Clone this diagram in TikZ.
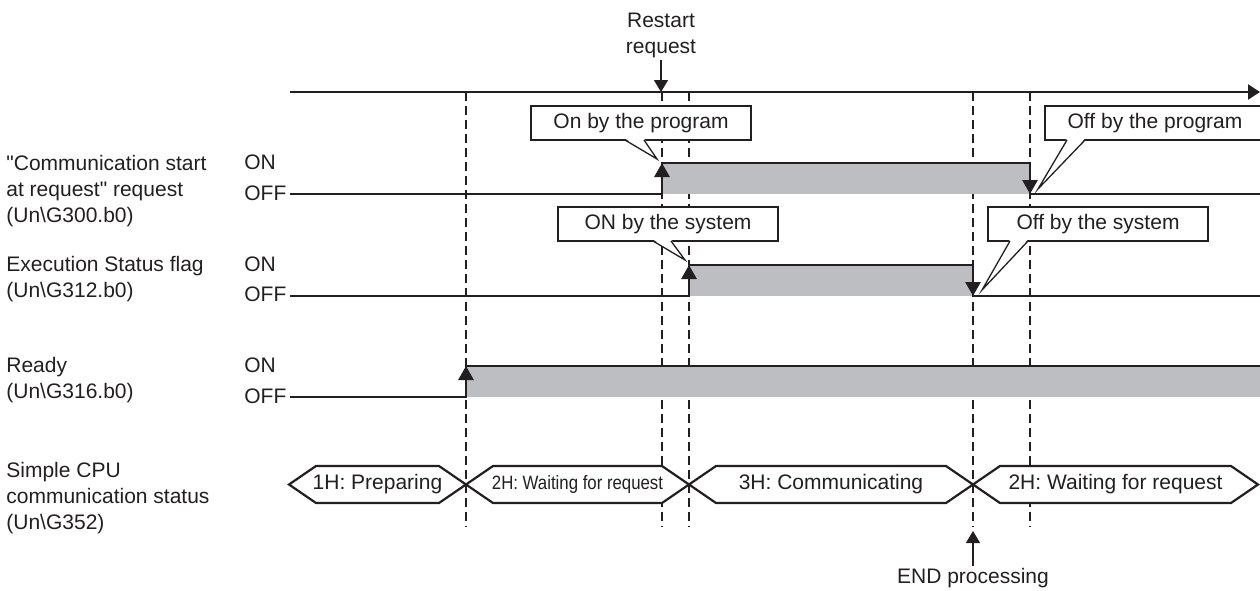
\documentclass[tikz,border=0pt]{standalone}
\usepackage{fontspec}
\setmainfont{Liberation Sans}[Ligatures=TeXOff]
\usepackage{graphicx}
\usetikzlibrary{arrows.meta,positioning,calc}
\definecolor{ink}{RGB}{35,31,32}
\definecolor{bargray}{RGB}{189,190,194}
\tikzset{
  sig/.style={line width=1.4pt},
  guide/.style={line width=1.1pt,dash pattern=on 4.5pt off 2.5pt},
  axis/.style={line width=1.1pt,-{Triangle[width=7.5pt,length=6pt]}},
  edge/.style={-{Triangle[width=7.5pt,length=7pt]}},
  pointer/.style={line width=0.6pt,-{Triangle[width=7pt,length=6pt]}},
  callout/.style={draw,fill=white,line width=0.65pt,minimum width=110pt,minimum height=17pt,inner sep=0pt},
  statebox/.style={draw,fill=white,line width=1.1pt,line join=miter},
}

\begin{document}
\begin{tikzpicture}[x=0.5pt,y=-0.5pt,color=ink,font=\fontsize{10.5}{13}\selectfont]
\useasboundingbox (0,0) rectangle (1260,590);

% guides
\foreach \x in {466,662,689,973,1030}{\draw[guide] (\x,92)--(\x,527);}

% time axis
\coordinate (t0) at (290,92);
\coordinate (t1) at (1260,92);
\draw[axis] (t0)--(t1);

% request and execution flag
\foreach \on/\off/\up/\down in {163/194/662/1030,265/296/689/973}{
  \fill[bargray] (\up,\on) rectangle (\down,\off);
  \draw[sig] (290,\off) -| (\up,\on) -| (\down,\off) -- (1260,\off);
  \draw[sig,edge] (\up,\off)--(\up,\on);
  \draw[sig,edge] (\down,\on)--(\down,\off);
}
% ready
\fill[bargray] (466,366) rectangle (1260,397);
\draw[sig] (290,397) -| (466,366) -- (1260,366);
\draw[sig,edge] (466,397)--(466,366);

% signal names
\foreach \name/\y/\txt in {req/191/{"Communication start\\at request" request\\(Un\textbackslash G300.b0)},
  exec/279/{Execution Status flag\\(Un\textbackslash G312.b0)},
  ready/380/{Ready\\(Un\textbackslash G316.b0)},
  stat/498/{Simple CPU\\communication status\\(Un\textbackslash G352)}}{
  \node[anchor=west,align=left,inner sep=0pt] (lbl\name) at (6,\y) {\txt};
}
\foreach \i/\on/\off in {1/162/193,2/264/294,3/365/396}{
  \node[anchor=west,inner sep=0pt] (on\i) at (244,\on) {ON};
  \node[anchor=west,inner sep=0pt] (off\i) at (244,\off) {OFF};
}

% callouts
\foreach \name/\cx/\cy/\txt/\ba/\bb/\tx/\ty in {onprog/641/123/{On by the program}/625/644/657/159,
  onsys/668/224/{ON by the system}/653/671/685/260,
  offprog/1155/123/{Off by the program}/1067/1085/1038/189,
  offsys/1098/224/{Off by the system}/1010/1028/982/290}{
  \node[callout] (\name) at (\cx,\cy) {\txt};
  \coordinate (\name tip) at (\tx,\ty);
  \fill[white] (\ba,\cy+15.5) -- (\name tip) -- (\bb,\cy+15.5) -- cycle;
  \draw[line width=0.65pt] (\ba,\cy+17) -- (\name tip) -- (\bb,\cy+17);
}

% status values
\foreach \a/\b/\name/\txt in {289/466/st1/{1H: Preparing},
  466/689/st2/{\scalebox{0.8}[0.92]{2H: Waiting for request}},
  689/973/st3/{3H: Communicating},
  973/1258/st4/{2H: Waiting for request}}{
  \draw[statebox] (\a,484.5)--(\a+27,466)--(\b-27,466)--(\b,484.5)--(\b-27,503)--(\a+27,503)--cycle;
  \node (\name) at ({(\a+\b)/2},484.5) {\txt};
}

% restart request and END processing
\node[align=center,inner sep=1pt] (restart) at (661,35) {Restart\\request};
\coordinate (restarttip) at (661,92);
\draw[pointer] (restart)--(restarttip);
\node[inner sep=1pt] (endproc) at (973,578) {END processing};
\coordinate (endtip) at (973,531);
\draw[pointer] (endproc)--(endtip);
\end{tikzpicture}
\end{document}
